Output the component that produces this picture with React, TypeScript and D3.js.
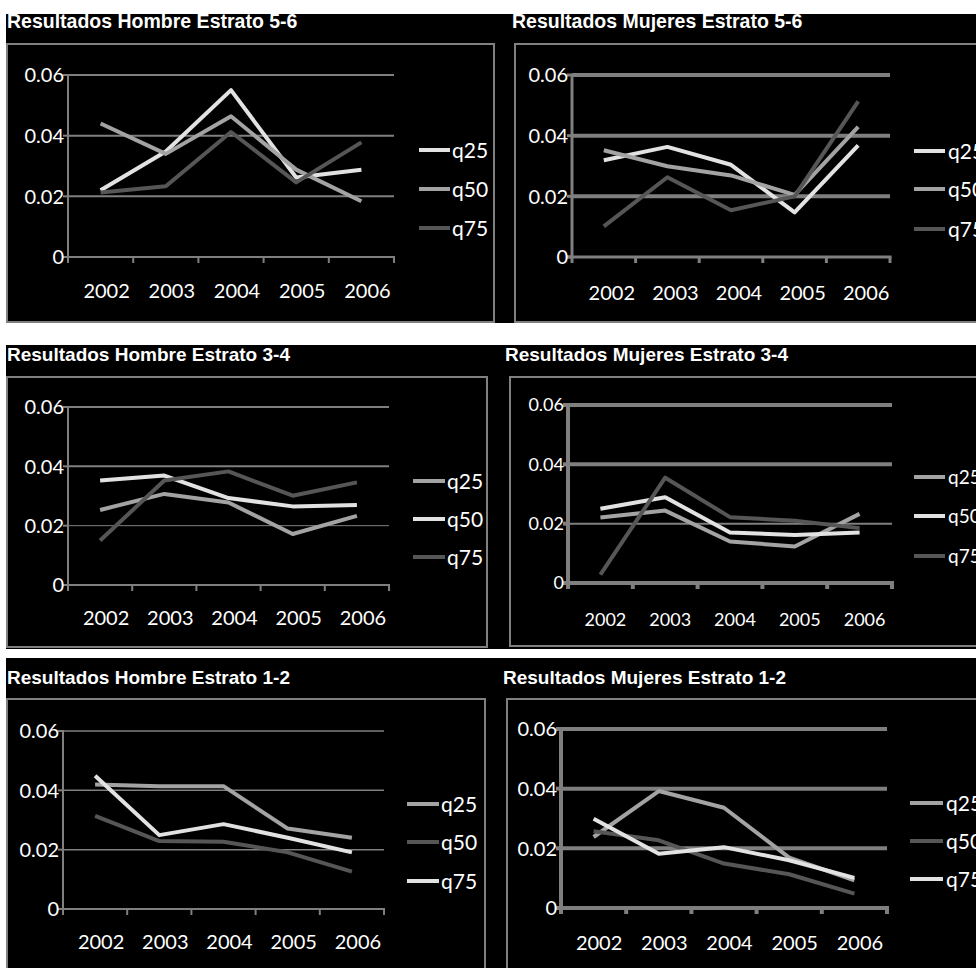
import React from "react";
import * as d3 from "d3";

// Shared axes
const years = ["2002", "2003", "2004", "2005", "2006"];
const yTicks = [0, 0.02, 0.04, 0.06];
const yTickLabels = ["0", "0.02", "0.04", "0.06"];
const seriesNames = ["q25", "q50", "q75"];

// Hombres / Mujeres, estrato 5-6
const hombre56Q25 = [0.022, 0.0348, 0.055, 0.0262, 0.0288];
const hombre56Q50 = [0.044, 0.034, 0.0464, 0.0288, 0.0184];
const hombre56Q75 = [0.0213, 0.0233, 0.0412, 0.0246, 0.0378];
const mujeres56Q25 = [0.0319, 0.0363, 0.0304, 0.0147, 0.0368];
const mujeres56Q50 = [0.0352, 0.0299, 0.0269, 0.0205, 0.0429];
const mujeres56Q75 = [0.0101, 0.0263, 0.0154, 0.02, 0.0513];

// Estrato 3-4
const hombre34Q25 = [0.0253, 0.0307, 0.0278, 0.0172, 0.0233];
const hombre34Q50 = [0.0352, 0.0369, 0.0293, 0.0265, 0.027];
const hombre34Q75 = [0.015, 0.0352, 0.0383, 0.0301, 0.0346];
const mujeres34Q25 = [0.0221, 0.0244, 0.014, 0.0123, 0.0233];
const mujeres34Q50 = [0.025, 0.0289, 0.017, 0.0162, 0.017];
const mujeres34Q75 = [0.0028, 0.0355, 0.0222, 0.021, 0.0185];

// Estrato 1-2
const hombre12Q25 = [0.042, 0.0414, 0.0414, 0.0271, 0.024];
const hombre12Q50 = [0.0314, 0.0229, 0.0227, 0.0191, 0.0126];
const hombre12Q75 = [0.0449, 0.0249, 0.0286, 0.024, 0.0191];
const mujeres12Q25 = [0.0238, 0.0392, 0.0336, 0.0169, 0.0093];
const mujeres12Q50 = [0.0257, 0.0227, 0.0149, 0.0113, 0.0048];
const mujeres12Q75 = [0.0299, 0.0182, 0.0204, 0.016, 0.0101];

const LIGHT = "#e2e2e2";
const MID = "#a3a3a3";
const DARK = "#565656";
const GRID = "#7f7f7f";

type PanelCfg = {
  title: string;
  titleX: number;
  titleY: number;
  titleSize: number;
  box: [number, number, number, number];
  x0: number;
  x1: number;
  yTop: number;
  yBot: number;
  gridW: number[];
  axisW: number;
  fs: number;
  xLabelOff: number;
  xLabelY: number;
  legX0: number;
  legX1: number;
  legTx: number;
  legY: number[];
  colors: string[];
  series: number[][];
};

const panels: PanelCfg[] = [
  {
    title: "Resultados Hombre Estrato 5-6",
    titleX: 7, titleY: 28, titleSize: 19.5,
    box: [7, 44, 494, 322],
    x0: 68, x1: 394, yTop: 75, yBot: 257,
    gridW: [2, 2, 2], axisW: 2,
    fs: 20, xLabelOff: 6, xLabelY: 298,
    legX0: 419, legX1: 450, legTx: 452, legY: [150, 189, 228],
    colors: [LIGHT, MID, DARK],
    series: [hombre56Q25, hombre56Q50, hombre56Q75],
  },
  {
    title: "Resultados Mujeres Estrato 5-6",
    titleX: 512, titleY: 28, titleSize: 19.5,
    box: [515, 44, 1000, 322],
    x0: 572, x1: 890, yTop: 75, yBot: 257,
    gridW: [4, 4, 4], axisW: 3,
    fs: 20, xLabelOff: 8, xLabelY: 300,
    legX0: 914, legX1: 945, legTx: 948, legY: [151, 189, 229],
    colors: [LIGHT, MID, DARK],
    series: [mujeres56Q25, mujeres56Q50, mujeres56Q75],
  },
  {
    title: "Resultados Hombre Estrato 3-4",
    titleX: 7, titleY: 361, titleSize: 19,
    box: [7, 377, 487, 647],
    x0: 68, x1: 389, yTop: 407, yBot: 585,
    gridW: [1, 2, 2], axisW: 2,
    fs: 20, xLabelOff: 6, xLabelY: 625,
    legX0: 413, legX1: 445, legTx: 447, legY: [481, 519, 557],
    colors: [MID, LIGHT, DARK],
    series: [hombre34Q25, hombre34Q50, hombre34Q75],
  },
  {
    title: "Resultados Mujeres Estrato 3-4",
    titleX: 505, titleY: 361, titleSize: 19,
    box: [510, 377, 1000, 646],
    x0: 568, x1: 892, yTop: 405, yBot: 583,
    gridW: [2, 4, 4], axisW: 4,
    fs: 18, xLabelOff: 5, xLabelY: 626,
    legX0: 914, legX1: 945, legTx: 948, legY: [477, 516, 556],
    colors: [MID, LIGHT, DARK],
    series: [mujeres34Q25, mujeres34Q50, mujeres34Q75],
  },
  {
    title: "Resultados Hombre Estrato 1-2",
    titleX: 7, titleY: 684, titleSize: 19,
    box: [7, 699, 485, 1000],
    x0: 63, x1: 384, yTop: 731, yBot: 909,
    gridW: [1.5, 1.5, 1.5], axisW: 2,
    fs: 20, xLabelOff: 6, xLabelY: 949,
    legX0: 407, legX1: 439, legTx: 441, legY: [804, 842, 881],
    colors: [MID, DARK, LIGHT],
    series: [hombre12Q25, hombre12Q50, hombre12Q75],
  },
  {
    title: "Resultados Mujeres Estrato 1-2",
    titleX: 503, titleY: 684, titleSize: 19,
    box: [507, 699, 1000, 1000],
    x0: 561, x1: 887, yTop: 729, yBot: 908,
    gridW: [4, 4, 4], axisW: 4,
    fs: 20, xLabelOff: 5.5, xLabelY: 950,
    legX0: 910, legX1: 943, legTx: 946, legY: [803, 841, 879],
    colors: [MID, DARK, LIGHT],
    series: [mujeres12Q25, mujeres12Q50, mujeres12Q75],
  },
];

const LABEL_FONT = "Lato, 'Open Sans', sans-serif";
const TITLE_FONT = "'Liberation Sans', Arial, sans-serif";

function Panel({ cfg }: { cfg: PanelCfg }) {
  const x = d3.scaleBand<string>().domain(years).range([cfg.x0, cfg.x1]).paddingInner(0).paddingOuter(0);
  const y = d3.scaleLinear().domain([0, 0.06]).range([cfg.yBot, cfg.yTop]);
  const cx = (yr: string) => (x(yr) as number) + x.bandwidth() / 2;
  const line = d3
    .line<number>()
    .x((_, i) => cx(years[i]))
    .y((d) => y(d));
  const boundaries = years.map((yr) => x(yr) as number).concat([cfg.x1]);
  const [bx0, by0, bx1, by1] = cfg.box;

  return (
    <g>
      <text
        x={cfg.titleX}
        y={cfg.titleY}
        fill="#ffffff"
        fontFamily={TITLE_FONT}
        fontWeight="bold"
        fontSize={cfg.titleSize}
      >
        {cfg.title}
      </text>
      <rect x={bx0} y={by0} width={bx1 - bx0} height={by1 - by0} fill="none" stroke="#808080" strokeWidth={2} />
      {/* gridlines */}
      {yTicks.slice(1).map((t, i) => (
        <line key={t} x1={cfg.x0} x2={cfg.x1} y1={y(t)} y2={y(t)} stroke={GRID} strokeWidth={cfg.gridW[i]} />
      ))}
      {/* axes */}
      <line x1={cfg.x0} x2={cfg.x0} y1={cfg.yTop - 1} y2={cfg.yBot} stroke={GRID} strokeWidth={cfg.axisW} />
      <line x1={cfg.x0 - 5} x2={cfg.x1 + cfg.axisW / 2} y1={cfg.yBot} y2={cfg.yBot} stroke={GRID} strokeWidth={cfg.axisW} />
      {yTicks.map((t) => (
        <line key={"yt" + t} x1={cfg.x0 - 5} x2={cfg.x0} y1={y(t)} y2={y(t)} stroke={GRID} strokeWidth={cfg.axisW} />
      ))}
      {boundaries.map((b, i) => (
        <line key={"xt" + i} x1={b} x2={b} y1={cfg.yBot} y2={cfg.yBot + 6} stroke={GRID} strokeWidth={cfg.axisW} />
      ))}
      {/* tick labels */}
      {yTicks.map((t, i) => (
        <text
          key={"yl" + t}
          x={cfg.x0 - 4}
          y={y(t)}
          dy="0.36em"
          textAnchor="end"
          fill="#ffffff"
          fontFamily={LABEL_FONT}
          fontSize={cfg.fs}
        >
          {yTickLabels[i]}
        </text>
      ))}
      {years.map((yr) => (
        <text
          key={"xl" + yr}
          x={cx(yr) + cfg.xLabelOff}
          y={cfg.xLabelY}
          textAnchor="middle"
          fill="#ffffff"
          fontFamily={LABEL_FONT}
          fontSize={cfg.fs}
        >
          {yr}
        </text>
      ))}
      {/* series */}
      {cfg.series.map((s, i) => (
        <path
          key={"s" + i}
          d={line(s) || ""}
          fill="none"
          stroke={cfg.colors[i]}
          strokeWidth={4}
          strokeLinejoin="round"
        />
      ))}
      {/* legend */}
      {seriesNames.map((name, i) => (
        <g key={"lg" + name}>
          <line
            x1={cfg.legX0}
            x2={cfg.legX1}
            y1={cfg.legY[i]}
            y2={cfg.legY[i]}
            stroke={cfg.colors[i]}
            strokeWidth={4}
          />
          <text
            x={cfg.legTx}
            y={cfg.legY[i]}
            dy="0.36em"
            fill="#ffffff"
            fontFamily={LABEL_FONT}
            fontSize={cfg.fs + 1}
          >
            {name}
          </text>
        </g>
      ))}
    </g>
  );
}

export default function App() {
  return (
    <div style={{ position: "absolute", left: 0, top: 0, width: 976, height: 968, overflow: "hidden", background: "#fff" }}>
      <svg width={976} height={968} style={{ display: "block" }}>
        <rect x={0} y={0} width={976} height={968} fill="#ffffff" />
        <rect x={6} y={14} width={970} height={309} fill="#000000" />
        <rect x={6} y={345} width={970} height={304} fill="#000000" />
        <rect x={6} y={658} width={970} height={310} fill="#000000" />
        {panels.map((p) => (
          <Panel key={p.title} cfg={p} />
        ))}
      </svg>
    </div>
  );
}
